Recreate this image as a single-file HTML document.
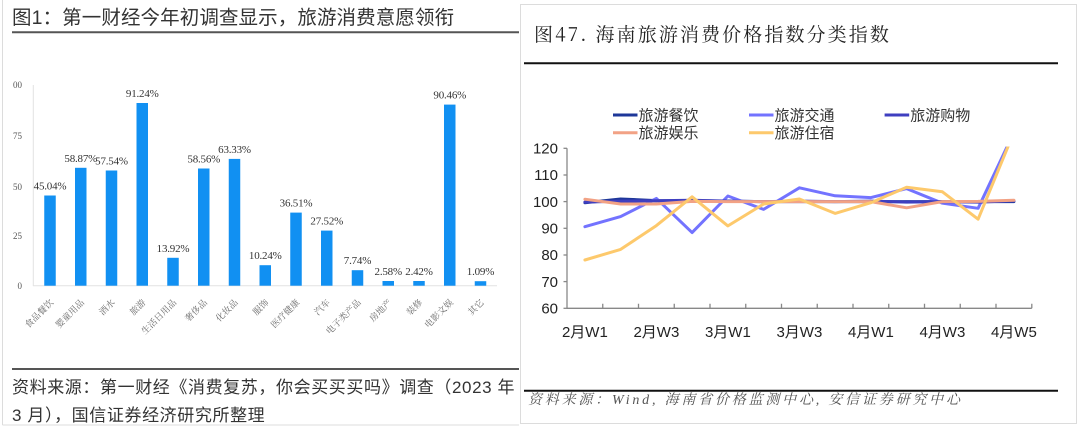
<!DOCTYPE html>
<html><head><meta charset="utf-8"><style>
html,body{margin:0;padding:0;background:#fff;}
svg{display:block;}
</style></head><body>
<svg width="1080" height="428" viewBox="0 0 1080 428" xmlns="http://www.w3.org/2000/svg">
<rect x="0" y="0" width="1080" height="428" fill="#fff"/>
<!-- panel borders -->
<line x1="2.5" y1="0" x2="2.5" y2="425" stroke="#dcdcdc" stroke-width="1"/>
<line x1="2.5" y1="425" x2="519" y2="425" stroke="#dcdcdc" stroke-width="1"/>
<rect x="520.5" y="4.5" width="556" height="419" fill="none" stroke="#dcdcdc" stroke-width="1"/>

<!-- LEFT PANEL -->
<text x="12" y="24" font-family="'Liberation Sans','Noto Sans CJK SC',sans-serif" font-size="19.5" fill="#333" letter-spacing="0.1">图1：第一财经今年初调查显示，旅游消费意愿领衔</text>
<line x1="12" y1="32.3" x2="519" y2="32.3" stroke="#555" stroke-width="2"/>

<g font-family="'Liberation Serif',serif" font-size="9" fill="#555" text-anchor="end">
<text x="22" y="88">00</text>
<text x="22" y="139">75</text>
<text x="22" y="190">50</text>
<text x="22" y="239">25</text>
<text x="22" y="289">0</text>
</g>
<line x1="33.3" y1="85" x2="33.3" y2="286" stroke="#e2e2e2" stroke-width="1"/>
<line x1="33" y1="285.7" x2="497" y2="285.7" stroke="#e2e2e2" stroke-width="1"/>

<g fill="#1190f2">
<rect x="44.25" y="195.5" width="11.5" height="90.2"/>
<rect x="75" y="167.8" width="11.5" height="117.9"/>
<rect x="105.75" y="170.5" width="11.5" height="115.2"/>
<rect x="136.5" y="103" width="11.5" height="182.7"/>
<rect x="167.25" y="257.8" width="11.5" height="27.9"/>
<rect x="198" y="168.5" width="11.5" height="117.2"/>
<rect x="228.75" y="158.9" width="11.5" height="126.8"/>
<rect x="259.5" y="265.2" width="11.5" height="20.5"/>
<rect x="290.25" y="212.6" width="11.5" height="73.1"/>
<rect x="321" y="230.6" width="11.5" height="55.1"/>
<rect x="351.75" y="270.2" width="11.5" height="15.5"/>
<rect x="382.5" y="281" width="11.5" height="4.7"/>
<rect x="413.25" y="281" width="11.5" height="4.7"/>
<rect x="444" y="104.6" width="11.5" height="181.1"/>
<rect x="474.75" y="281.2" width="11.5" height="4.5"/>
</g>

<g font-family="'Liberation Serif',serif" font-size="11" fill="#333" text-anchor="middle" letter-spacing="-0.2">
<text x="50" y="189.5">45.04%</text>
<text x="80.75" y="161.8">58.87%</text>
<text x="111.5" y="164.5">57.54%</text>
<text x="142.25" y="97">91.24%</text>
<text x="173" y="251.8">13.92%</text>
<text x="203.75" y="162.5">58.56%</text>
<text x="234.5" y="152.9">63.33%</text>
<text x="265.25" y="259.2">10.24%</text>
<text x="296" y="206.6">36.51%</text>
<text x="326.75" y="224.6">27.52%</text>
<text x="357.5" y="264.2">7.74%</text>
<text x="388.25" y="275">2.58%</text>
<text x="419" y="275">2.42%</text>
<text x="449.75" y="98.6">90.46%</text>
<text x="480.5" y="275">1.09%</text>
</g>

<g font-family="'Liberation Serif','Noto Serif CJK SC',serif" font-size="9" fill="#6a6a6a" text-anchor="end">
<text transform="translate(54,303) rotate(-45)">食品餐饮</text>
<text transform="translate(84.75,303) rotate(-45)">婴童用品</text>
<text transform="translate(115.5,303) rotate(-45)">酒水</text>
<text transform="translate(146.25,303) rotate(-45)">旅游</text>
<text transform="translate(177,303) rotate(-45)">生活日用品</text>
<text transform="translate(207.75,303) rotate(-45)">奢侈品</text>
<text transform="translate(238.5,303) rotate(-45)">化妆品</text>
<text transform="translate(269.25,303) rotate(-45)">服饰</text>
<text transform="translate(300,303) rotate(-45)">医疗健康</text>
<text transform="translate(330.75,303) rotate(-45)">汽车</text>
<text transform="translate(361.5,303) rotate(-45)">电子类产品</text>
<text transform="translate(392.25,303) rotate(-45)">房地产</text>
<text transform="translate(423,303) rotate(-45)">装修</text>
<text transform="translate(453.75,303) rotate(-45)">电影文娱</text>
<text transform="translate(484.5,303) rotate(-45)">其它</text>
</g>

<line x1="12" y1="369" x2="519" y2="369" stroke="#555" stroke-width="2"/>
<g font-family="'Liberation Sans','Noto Sans CJK SC',sans-serif" font-size="17" fill="#333" letter-spacing="0.6">
<text x="12" y="393">资料来源：第一财经《消费复苏，你会买买买吗》调查（2023 年</text>
<text x="12" y="421">3 月），国信证券经济研究所整理</text>
</g>

<!-- RIGHT PANEL -->
<text x="534" y="41" font-family="'Noto Serif CJK SC','Liberation Sans',serif" font-size="19" fill="#222" letter-spacing="2.1">图47. 海南旅游消费价格指数分类指数</text>
<line x1="524" y1="63.3" x2="1058" y2="63.3" stroke="#111" stroke-width="2"/>

<!-- legend -->
<g stroke-width="3">
<line x1="613" y1="115" x2="637.5" y2="115" stroke="#1e3799"/>
<line x1="749" y1="115" x2="773.5" y2="115" stroke="#7373ff"/>
<line x1="884.6" y1="115" x2="909.2" y2="115" stroke="#3f3fc0"/>
<line x1="613" y1="132.7" x2="637.5" y2="132.7" stroke="#f2a285"/>
<line x1="749" y1="132.7" x2="773.5" y2="132.7" stroke="#fdc96c"/>
</g>
<g font-family="'Liberation Sans','Noto Sans CJK SC',sans-serif" font-size="15" fill="#333">
<text x="638.5" y="120.3">旅游餐饮</text>
<text x="774.5" y="120.3">旅游交通</text>
<text x="910.3" y="120.3">旅游购物</text>
<text x="638.5" y="138">旅游娱乐</text>
<text x="774.5" y="138">旅游住宿</text>
</g>

<!-- axes -->
<g stroke="#888" stroke-width="1.3" fill="none">
<line x1="567" y1="148.3" x2="567" y2="308.3"/>
<line x1="567" y1="308.3" x2="1031.8" y2="308.3"/>
<line x1="563.5" y1="148.3" x2="567" y2="148.3"/>
<line x1="563.5" y1="175" x2="567" y2="175"/>
<line x1="563.5" y1="201.6" x2="567" y2="201.6"/>
<line x1="563.5" y1="228.3" x2="567" y2="228.3"/>
<line x1="563.5" y1="255" x2="567" y2="255"/>
<line x1="563.5" y1="281.6" x2="567" y2="281.6"/>
<line x1="563.5" y1="308.3" x2="567" y2="308.3"/>
<path d="M602.75 308.3v-4.5M638.5 308.3v-4.5M674.25 308.3v-4.5M710 308.3v-4.5M745.75 308.3v-4.5M781.5 308.3v-4.5M817.25 308.3v-4.5M853 308.3v-4.5M888.75 308.3v-4.5M924.5 308.3v-4.5M960.25 308.3v-4.5M996 308.3v-4.5M1031.8 308.3v-4.5"/>
</g>
<g font-family="'Liberation Sans',sans-serif" font-size="15" fill="#222" text-anchor="end">
<text x="558" y="153.5">120</text>
<text x="558" y="180.2">110</text>
<text x="558" y="206.8">100</text>
<text x="558" y="233.5">90</text>
<text x="558" y="260.2">80</text>
<text x="558" y="286.8">70</text>
<text x="558" y="313.5">60</text>
</g>
<g font-family="'Liberation Sans','Noto Sans CJK SC',sans-serif" font-size="15" fill="#222" text-anchor="middle">
<text x="584.9" y="337">2月W1</text>
<text x="656.4" y="337">2月W3</text>
<text x="727.9" y="337">3月W1</text>
<text x="799.4" y="337">3月W3</text>
<text x="870.9" y="337">4月W1</text>
<text x="942.4" y="337">4月W3</text>
<text x="1013.9" y="337">4月W5</text>
</g>

<defs><clipPath id="pc"><rect x="567" y="146.5" width="466" height="162"/></clipPath></defs>
<g clip-path="url(#pc)" fill="none" stroke-width="3" stroke-linejoin="round" stroke-linecap="round">
<polyline stroke="#1e3799" points="584.9,202.7 620.6,199 656.4,200.6 692.1,200.8 727.9,201.1 763.6,201.6 799.4,201.6 835.1,201.6 870.9,201.6 906.6,201.6 942.4,201.6 978.1,201.6 1013.9,201.6"/>
<polyline stroke="#7373ff" points="584.9,226.7 620.6,216.6 656.4,198.4 692.1,232.6 727.9,196 763.6,209.4 799.4,187.8 835.1,195.8 870.9,197.6 906.6,188.6 942.4,203.2 978.1,208.3 1013.9,132.3"/>
<polyline stroke="#3f3fc0" points="584.9,202.1 620.6,201.1 656.4,200.8 692.1,200.3 727.9,201.1 763.6,201.6 799.4,201.1 835.1,201.6 870.9,201.1 906.6,202.1 942.4,201.6 978.1,202.1 1013.9,200.8"/>
<polyline stroke="#f2a285" points="584.9,199.2 620.6,204 656.4,204 692.1,201.4 727.9,201.6 763.6,201.6 799.4,201.6 835.1,201.6 870.9,201.6 906.6,207.8 942.4,201.6 978.1,201.4 1013.9,200.3"/>
<polyline stroke="#fdc96c" points="584.9,260 620.6,249.4 656.4,225.6 692.1,196.8 727.9,225.9 763.6,204 799.4,199 835.1,213.4 870.9,202.7 906.6,187.2 942.4,191.8 978.1,219.2 1013.9,132.3"/>
</g>

<line x1="524" y1="390.7" x2="1058" y2="390.7" stroke="#111" stroke-width="2"/>
<text x="528" y="404" font-family="'Liberation Serif','Noto Serif CJK SC',serif" font-size="14" font-style="italic" fill="#555" letter-spacing="2.8">资料来源：Wind, 海南省价格监测中心, 安信证券研究中心</text>
</svg>
</body></html>
